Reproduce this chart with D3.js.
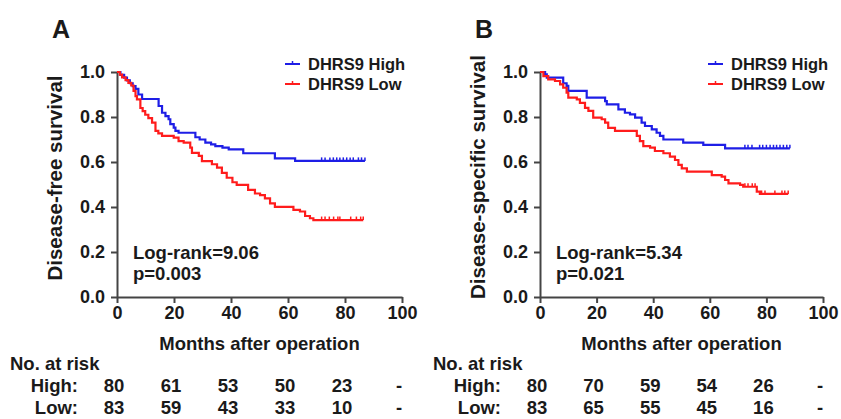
<!doctype html>
<html>
<head>
<meta charset="utf-8">
<script src="https://d3js.org/d3.v7.min.js"></script>
<style>
  body { margin: 0; background: #fff; }
  text { font-family: "Liberation Sans", Arial, sans-serif; font-weight: bold; fill: #1a1a1a; }
</style>
</head>
<body>
<svg width="841" height="419"></svg>
<script>
// Kaplan-Meier steps [months, survival]
var dfsHigh = [[0,1],[1.2,0.9875],[2.5,0.975],[3.5,0.9625],[4.5,0.95],[5.5,0.9375],[6.5,0.925],[7.5,0.9],[8.8,0.88],
  [14.6,0.849],[15.8,0.819],[17,0.804],[18.1,0.79],[18.7,0.768],[19.9,0.753],[20.5,0.738],[21.6,0.73],
  [27.5,0.71],[29,0.70],[31,0.686],[33,0.678],[34.5,0.671],[37,0.664],[39.2,0.656],[44.3,0.639],
  [55.4,0.616],[62.5,0.605],[87,0.605]];
var dfsLow = [[0,1],[1,0.988],[1.8,0.976],[3,0.964],[4,0.952],[5,0.94],[5.8,0.916],[6.5,0.893],[7,0.878],[8.2,0.84],
  [9,0.826],[9.9,0.81],[11,0.795],[12.3,0.775],[13.5,0.738],[14.5,0.727],[15.8,0.716],[19.9,0.708],[21.6,0.693],
  [23.4,0.686],[25.7,0.664],[26.3,0.641],[28.7,0.627],[29.8,0.604],[33.3,0.59],[35.1,0.575],[36.8,0.552],
  [38.5,0.53],[40.5,0.51],[42,0.498],[46,0.476],[48.4,0.46],[50.2,0.453],[51.9,0.438],[53.7,0.416],[55.4,0.401],
  [61.9,0.387],[64.2,0.38],[66,0.36],[67.7,0.35],[68.9,0.342],[86.4,0.342]];
var dssHigh = [[0,1],[1.8,0.99],[2.4,0.975],[8.2,0.95],[9.4,0.938],[10,0.916],[16.5,0.886],[23,0.871],[23.6,0.856],
  [27.7,0.834],[30,0.819],[31.8,0.812],[33.6,0.797],[35.9,0.775],[37.1,0.76],[39.5,0.745],[41.2,0.73],[42.4,0.716],
  [43.6,0.70],[50.6,0.686],[57.7,0.676],[65.4,0.661],[88.3,0.661]];
var dssLow = [[0,1],[1.2,0.982],[2.9,0.967],[5.3,0.96],[7.1,0.945],[8.2,0.93],[9.4,0.908],[10,0.886],[13,0.878],
  [14.1,0.863],[15.9,0.841],[17.1,0.827],[18.8,0.797],[21.8,0.79],[23,0.775],[24.1,0.752],[26.5,0.738],[34.2,0.716],
  [35.3,0.693],[36.5,0.671],[38.9,0.664],[40.6,0.649],[43.6,0.639],[45.9,0.624],[47.7,0.609],[48.9,0.587],
  [50.1,0.572],[51.9,0.557],[60.7,0.542],[64.2,0.535],[65.4,0.52],[66.6,0.505],[70.7,0.498],[71.8,0.49],
  [76.6,0.468],[77.7,0.458],[87.7,0.458]];

// censored times
var dfsHighCens = [71.8,73,74.7,75.9,77.1,78.2,79.4,80.6,81.8,82.9,84.7,85.8,87];
var dfsLowCens = [71.8,73,74.5,76,77.5,78.2,82,84,85.5,86.4];
var dssHighCens = [72.4,73.5,74.9,77.6,78.7,80,81.3,82.5,83.6,84.8,86,87.2,88.3];
var dssLowCens = [72.4,73.5,75,76,78.3,79.5,83,85.5,86.5,87.7];

var xTicks = [0, 20, 40, 60, 80, 100];
var yTicks = [0, 0.2, 0.4, 0.6, 0.8, 1.0];
var groups = ["DHRS9 High", "DHRS9 Low"];
var riskRows = ["High:", "Low:"];
var dfsRiskHigh = ["80", "61", "53", "50", "23", "-"];
var dfsRiskLow = ["83", "59", "43", "33", "10", "-"];
var dssRiskHigh = ["80", "70", "59", "54", "26", "-"];
var dssRiskLow = ["83", "65", "55", "45", "16", "-"];

var colors = ["#1e1ee6", "#ff1c1c"];
var svg = d3.select("svg");
var bis = d3.bisector(function (d) { return d[0]; }).right;

function survAt(s, t) {
  return s[Math.max(0, bis(s, t) - 1)][1];
}

function drawPanel(o) {
  var x = d3.scaleLinear().domain([0, 100]).range([o.x0, o.x1]);
  var y = d3.scaleLinear().domain([0, 1]).range([297, 72]);
  var g = svg.append("g");

  var xa = g.append("g").attr("transform", "translate(0,297)")
    .call(d3.axisBottom(x).tickValues(xTicks).tickSize(6).tickSizeOuter(0).tickPadding(3));
  var ya = g.append("g").attr("transform", "translate(" + o.x0 + ",0)")
    .call(d3.axisLeft(y).tickValues(yTicks).tickSize(6).tickSizeOuter(0).tickPadding(6).tickFormat(d3.format(".1f")));
  [xa, ya].forEach(function (a) {
    a.selectAll("path, line").attr("stroke", "#444").attr("stroke-width", 2);
    a.selectAll("text").style("font-size", "18px").attr("fill", "#1a1a1a")
      .style("font-family", "'Liberation Sans', Arial, sans-serif").style("font-weight", "bold");
  });

  var line = d3.line().x(function (d) { return x(d[0]); }).y(function (d) { return y(d[1]); })
    .curve(d3.curveStepAfter);

  [o.high, o.low].forEach(function (s, i) {
    g.append("path").datum(s).attr("d", line).attr("fill", "none")
      .attr("stroke", colors[i]).attr("stroke-width", 2.2);
  });
  // censor ticks
  [[o.high, o.highCens], [o.low, o.lowCens]].forEach(function (p, i) {
    var s = p[0];
    g.selectAll(null).data(p[1]).enter().append("line")
      .attr("x1", function (d) { return x(d); }).attr("x2", function (d) { return x(d); })
      .attr("y1", function (d) { return y(survAt(s, d)) - 3.5; })
      .attr("y2", function (d) { return y(survAt(s, d)); })
      .attr("stroke", colors[i]).attr("stroke-width", 1.5);
  });

  // panel letter
  g.append("text").attr("x", o.x0 - 65).attr("y", 38).style("font-size", "25px").text(o.letter);

  // y label
  g.append("text").attr("transform", "translate(" + (o.x0 - 55) + "," + o.ymid + ") rotate(-90)")
    .attr("text-anchor", "middle").style("font-size", "20.5px").text(o.ylab);

  // x label
  g.append("text").attr("x", x(50)).attr("y", 350).attr("text-anchor", "middle")
    .style("font-size", "18.5px").text("Months after operation");

  // legend
  groups.forEach(function (name, i) {
    var ly = 64 + i * 20;
    var lx = o.x0 + 168;
    g.append("line").attr("x1", lx).attr("x2", lx + 15).attr("y1", ly).attr("y2", ly)
      .attr("stroke", colors[i]).attr("stroke-width", 2);
    g.append("line").attr("x1", lx + 7.5).attr("x2", lx + 7.5).attr("y1", ly - 3).attr("y2", ly)
      .attr("stroke", colors[i]).attr("stroke-width", 1.5);
    g.append("text").attr("x", lx + 23).attr("y", ly + 6).style("font-size", "16.5px").text(name);
  });

  // stats
  g.append("text").attr("x", o.x0 + 16).attr("y", 259).style("font-size", "18.5px").text(o.stat);
  g.append("text").attr("x", o.x0 + 16).attr("y", 280).style("font-size", "18.5px").text(o.p);

  // risk table
  g.append("text").attr("x", o.x0 - 107).attr("y", 370).style("font-size", "18.5px").text("No. at risk");
  [o.riskHigh, o.riskLow].forEach(function (row, r) {
    var ry = 392 + r * 22;
    g.append("text").attr("x", o.x0 - 39).attr("y", ry).attr("text-anchor", "end")
      .style("font-size", "18.5px").text(riskRows[r]);
    g.selectAll(null).data(row).enter().append("text")
      .attr("x", function (d, i) { return x(xTicks[i]) - 3; }).attr("y", ry)
      .attr("text-anchor", "middle").style("font-size", "18.5px").text(function (d) { return d; });
  });
}

drawPanel({ x0: 117, x1: 402, letter: "A", ylab: "Disease-free survival", ymid: 178, high: dfsHigh, low: dfsLow,
  highCens: dfsHighCens, lowCens: dfsLowCens, stat: "Log-rank=9.06", p: "p=0.003",
  riskHigh: dfsRiskHigh, riskLow: dfsRiskLow });
drawPanel({ x0: 540, x1: 823, letter: "B", ylab: "Disease-specific survival", ymid: 177, high: dssHigh, low: dssLow,
  highCens: dssHighCens, lowCens: dssLowCens, stat: "Log-rank=5.34", p: "p=0.021",
  riskHigh: dssRiskHigh, riskLow: dssRiskLow });
</script>
</body>
</html>
